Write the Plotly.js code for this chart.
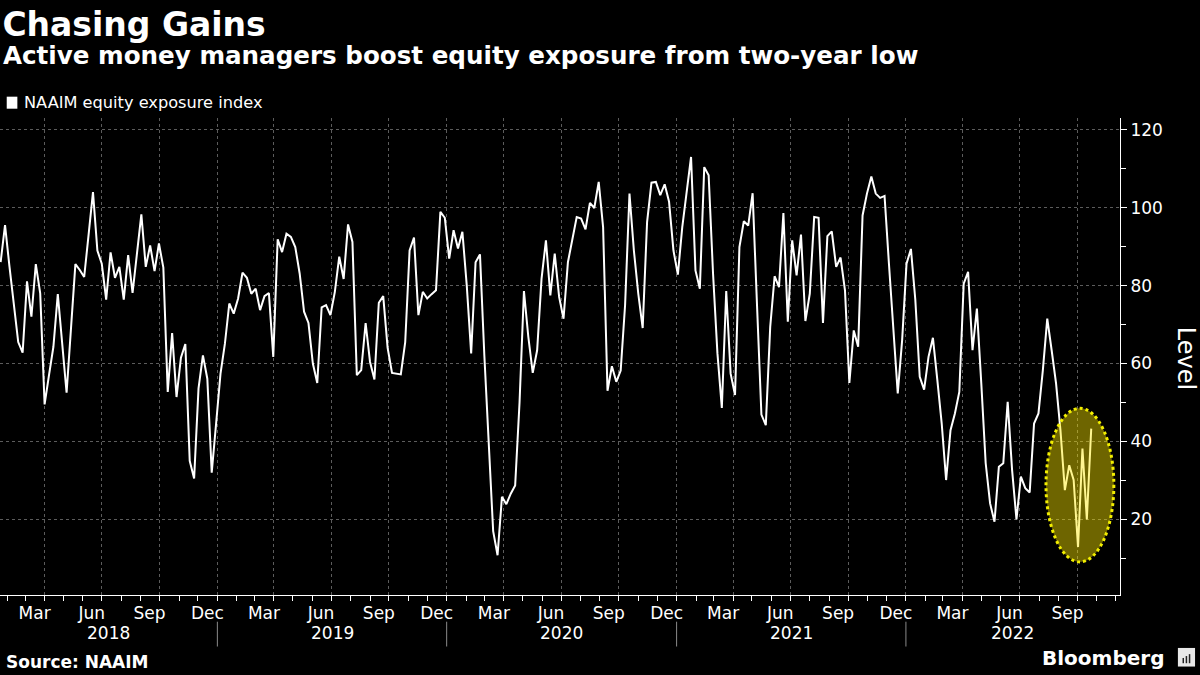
<!DOCTYPE html>
<html>
<head>
<meta charset="utf-8">
<script src="https://cdn.plot.ly/plotly-3.0.1.min.js"></script>
<style>
  html, body { margin: 0; padding: 0; background: #000; }
  #chart { width: 1200px; height: 675px; }
</style>
</head>
<body>
<div id="chart"></div>
<script>
// ---------------- DATA ----------------
const seriesName = 'NAAIM equity exposure index';
const firstWeek = '2018-01-21';   // weekly readings (week-ending dates)

const values2018 = [
  86, 95.5, 85, 75, 65.5, 62.8, 81.1, 72, 85.5, 78,
  49.5, 57, 64.3, 77.8, 65, 52.5, 69, 85.5, 84, 82.2,
  93, 104, 89, 85.6, 76.4, 88.5, 82, 84.8, 76.4, 87.8,
  78.1, 88, 98.3, 84.8, 90.3, 83.7, 90.8, 84.6, 52.7, 67.8,
  51.4, 61.5, 65, 35, 30.5, 53.6, 62.1, 56.1, 32, 44.6
];
const values2019 = [
  57.4, 65.1, 75.4, 72.8, 76.7, 83.3, 82.0, 77.9, 79.2, 73.7,
  77.3, 78.1, 61.7, 91.9, 88.6, 93.3, 92.5, 89.9, 83.1, 73.3,
  70.4, 60.0, 55.0, 74.4, 75.0, 72.4, 78.4, 87.4, 81.7, 95.7,
  91.2, 57.0, 58.3, 70.4, 60.4, 55.9, 75.6, 77.3, 64, 57.6,
  57.4, 57.2, 65.5, 89.0, 92.3, 72.4, 78.4, 76.7, 77.8, 78.8,
  98.9, 97.4
];
const values2020 = [
  86.9, 94.2, 89.5, 93.8, 80, 62.6, 86.0, 88.0, 62, 38,
  17, 10.8, 25.8, 23.9, 26.6, 28.7, 50, 78.6, 66.8, 57.6,
  63.4, 81.7, 91.6, 77.5, 88.2, 77.1, 71.5, 86, 91.6, 97.6,
  97.2, 94.4, 101.2, 99.9, 106.6, 95.0, 53.0, 59.3, 55.3, 58.2,
  75, 103.6, 89.0, 77.9, 69.1, 96.3, 106.4, 106.6, 103.2, 106.0,
  101.5, 89.0
];
const values2021 = [
  82.8, 95, 104, 113, 83.9, 79.2, 110.4, 108.3, 83.1, 62.6,
  48.6, 78.6, 57.4, 51.9, 89.9, 96.5, 95.4, 103.7, 75, 46.9,
  44.2, 69.4, 82.4, 79.6, 98.6, 70.7, 91.6, 82.6, 93.1, 70.9,
  77.9, 97.6, 97.4, 70.4, 92.7, 93.9, 84.8, 87.2, 78.8, 55.0,
  68.5, 64.3, 98.0, 103.6, 108.0, 103.6, 102.5, 103.0, 85.6, 68.3,
  52.3, 66.0, 85.6
];
const values2022 = [
  89.4, 76.3, 56.6, 53.3, 61.7, 66.6, 55.8, 44.6, 30.1, 42.9,
  47.2, 52.7, 80.5, 83.5, 63.4, 74.1, 54.9, 34.4, 24.1, 19.4,
  33.5, 34.4, 50.2, 32.7, 20.0, 31.0, 28.0, 26.9, 44.6, 47.2,
  58.3, 71.5, 63.4, 54.9, 42.9, 27.5, 33.9, 30.1, 12.9, 38.2,
  20.0, 43.3
];

const years = [2018, 2019, 2020, 2021, 2022];
const quarterStarts = ['01-01', '04-01', '07-01', '10-01'];
const quarterLabels = ['Dec', 'Mar', 'Jun', 'Sep'];
const xRange = ['2018-01-20 00:00', '2022-12-07 19:00'];
const yRange = [0.6, 123];
const highlight = { x0: '2022-08-12', x1: '2022-11-28', y0: 9.1, y1: 48.5 };

// ---------------- BUILD ----------------
const values = [].concat(values2018, values2019, values2020, values2021, values2022);
const DAY = 86400000;
const t0 = Date.parse(firstWeek + 'T00:00:00Z');
const dates = values.map((_, i) => new Date(t0 + i * 7 * DAY).toISOString().slice(0, 10));

const tickvals = [], ticktext = [];
years.concat([years[years.length - 1] + 1]).forEach(y => {
  quarterStarts.forEach((q, j) => { tickvals.push(y + '-' + q); ticktext.push(quarterLabels[j]); });
});

function ms(s) { return Date.parse(s.replace(' ', 'T') + (s.length > 10 ? ':00Z' : 'T00:00:00Z')); }
const r0 = ms(xRange[0]), r1 = ms(xRange[1]);

const annotations = [];
const shapes = [];

years.forEach((y, i) => {
  const a = Math.max(ms(y + '-01-01'), r0);
  const b = Math.min(ms((y + 1) + '-01-01'), r1);
  const mid = new Date((a + b) / 2).toISOString().slice(0, 19).replace('T', ' ');
  annotations.push({ x: mid, xref: 'x', y: -0.0797, yref: 'paper', text: String(y), showarrow: false,
    xanchor: 'center', yanchor: 'middle', font: { size: 17, color: '#ffffff', family: 'DejaVu Sans' } });
  if (i > 0) {
    shapes.push({ type: 'line', xref: 'x', yref: 'paper', x0: y + '-01-01', x1: y + '-01-01',
      y0: -0.056, y1: -0.108, line: { color: '#8a8a8a', width: 1 } });
  }
});

// subtitle, legend, axis label, source, logo
annotations.push(
  { xref: 'paper', yref: 'paper', x: 0, xshift: 1, y: 1.132, xanchor: 'left', yanchor: 'middle', showarrow: false,
    text: '<b>Active money managers boost equity exposure from two-year low</b>',
    font: { size: 24.6, color: '#ffffff', family: 'DejaVu Sans' } },
  { xref: 'paper', yref: 'paper', x: 0.0192, y: 1.0335, xanchor: 'left', yanchor: 'middle', showarrow: false,
    text: seriesName, font: { size: 16.2, color: '#ffffff', family: 'DejaVu Sans' } },
  { xref: 'paper', yref: 'paper', x: 1.059, y: 0.497, xanchor: 'center', yanchor: 'middle', showarrow: false,
    text: 'Level', textangle: 90, font: { size: 24, color: '#ffffff', family: 'DejaVu Sans' } },
  { xref: 'paper', yref: 'paper', x: 0, xshift: 4, y: -0.1398, xanchor: 'left', yanchor: 'middle', showarrow: false,
    text: '<b>Source: NAAIM</b>', font: { size: 17, color: '#ffffff', family: 'DejaVu Sans' } },
  { xref: 'paper', yref: 'paper', x: 1.0414, y: -0.132, xanchor: 'right', yanchor: 'middle', showarrow: false,
    text: '<b>Bloomberg</b>', font: { size: 20, color: '#ffffff', family: 'DejaVu Sans' } }
);

// legend swatch
shapes.push({ type: 'rect', xref: 'paper', yref: 'paper', x0: 0.006, x1: 0.0155, y0: 1.0195, y1: 1.0447,
  fillcolor: '#ffffff', line: { width: 0 } });
// logo badge
shapes.push({ type: 'rect', xref: 'paper', yref: 'paper', x0: 1.0517, x1: 1.0670, y0: -0.150, y1: -0.111,
  fillcolor: '#e8e8e8', line: { width: 0 } });
['1.0565', '1.0593', '1.0621'].forEach((bx, i) => {
  shapes.push({ type: 'line', xref: 'paper', yref: 'paper', x0: +bx, x1: +bx, y0: -0.143, y1: -0.128 + i * 0.004 - 0.004,
    line: { color: '#222222', width: 1.5 } });
});
// highlight ellipse
shapes.push({ type: 'circle', xref: 'x', yref: 'y', x0: highlight.x0, x1: highlight.x1, y0: highlight.y0, y1: highlight.y1,
  fillcolor: 'rgba(255,235,0,0.43)', line: { color: '#f2ee00', width: 3, dash: 'dot' }, layer: 'above' });

const trace = {
  type: 'scatter', mode: 'lines', x: dates, y: values, name: seriesName,
  line: { color: '#ffffff', width: 2 }, hoverinfo: 'x+y'
};

const layout = {
  width: 1200, height: 675,
  paper_bgcolor: '#000000', plot_bgcolor: '#000000',
  margin: { l: 0, r: 80, t: 118, b: 80 },
  font: { family: 'DejaVu Sans', color: '#ffffff' },
  showlegend: false,
  title: { text: '<b>Chasing Gains</b>', xref: 'container', x: 0.002, xanchor: 'left',
    yref: 'container', y: 1 - 24 / 675, yanchor: 'middle',
    font: { size: 33, color: '#ffffff', family: 'DejaVu Sans' } },
  xaxis: {
    type: 'date', range: xRange, fixedrange: true,
    tickmode: 'array', tickvals: tickvals, ticktext: ticktext,
    ticks: 'outside', ticklen: 5, tickcolor: '#ffffff', tickwidth: 1,
    ticklabelshift: -10, ticklabelstandoff: -2,
    tickfont: { size: 17, color: '#ffffff', family: 'DejaVu Sans' },
    showgrid: true, gridcolor: '#5c5c5c', griddash: 'dot', gridwidth: 1,
    showline: true, linecolor: '#ffffff', linewidth: 1, zeroline: false,
    minor: { dtick: 'M1', tick0: '2018-01-01', ticks: 'outside', ticklen: 5, tickcolor: '#ffffff', showgrid: false }
  },
  yaxis: {
    side: 'right', range: yRange, fixedrange: true,
    tick0: 0, dtick: 20,
    ticks: 'outside', ticklen: 6, tickcolor: '#ffffff',
    tickfont: { size: 17, color: '#ffffff', family: 'DejaVu Sans' },
    showgrid: true, gridcolor: '#5c5c5c', griddash: 'dot', gridwidth: 1,
    showline: true, linecolor: '#ffffff', linewidth: 1, zeroline: false,
    minor: { dtick: 10, tick0: 0, ticks: 'outside', ticklen: 5, tickcolor: '#ffffff', showgrid: false }
  },
  annotations: annotations,
  shapes: shapes
};

Plotly.newPlot('chart', [trace], layout, { displayModeBar: false, staticPlot: true });
</script>
</body>
</html>
